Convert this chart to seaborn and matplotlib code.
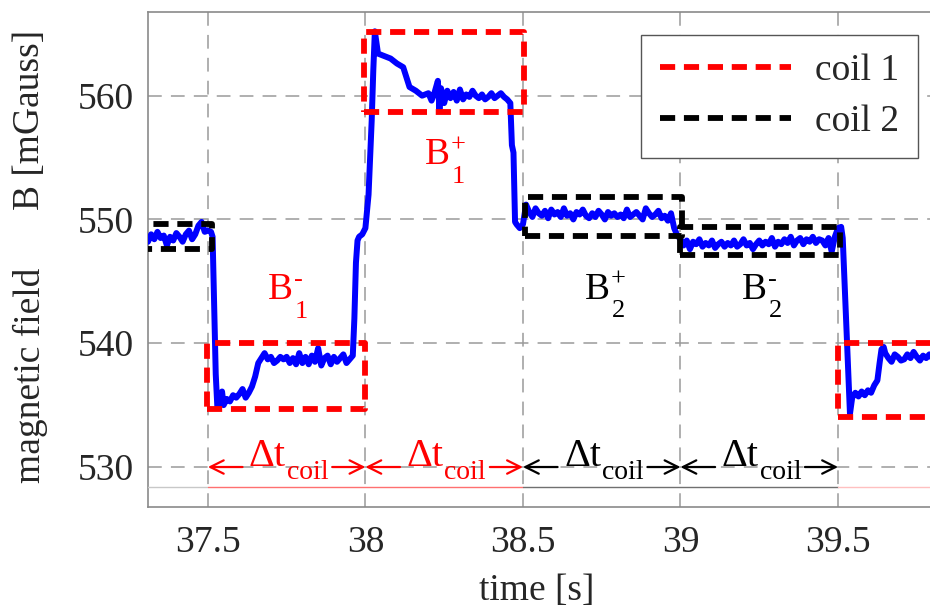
import matplotlib
matplotlib.use("Agg")
import matplotlib.pyplot as plt
import seaborn as sns
import pandas as pd

# ---------------- data ----------------
time_s = [
    37.30, 37.31, 37.32, 37.33, 37.34, 37.35, 37.36, 37.37, 37.38, 37.39,
    37.40, 37.41, 37.42, 37.43, 37.44, 37.45, 37.46, 37.47, 37.48, 37.49,
    37.50, 37.51, 37.515, 37.52, 37.525, 37.53, 37.54, 37.545, 37.55, 37.56,
    37.57, 37.58, 37.59, 37.60, 37.61, 37.62, 37.63, 37.64, 37.65, 37.66,
    37.67, 37.68, 37.69, 37.70, 37.71, 37.72, 37.73, 37.74, 37.75, 37.76,
    37.77, 37.78, 37.79, 37.80, 37.81, 37.82, 37.83, 37.84, 37.85, 37.86,
    37.87, 37.88, 37.89, 37.90, 37.91, 37.92, 37.93, 37.94, 37.95, 37.96,
    37.965, 37.97, 37.975, 37.98, 37.99, 38.00, 38.01, 38.02, 38.025, 38.03,
    38.04, 38.06, 38.08, 38.10, 38.12, 38.13, 38.14, 38.16, 38.18, 38.20,
    38.21, 38.22, 38.23, 38.235, 38.24, 38.25, 38.26, 38.27, 38.28, 38.29,
    38.30, 38.31, 38.32, 38.33, 38.34, 38.35, 38.36, 38.37, 38.38, 38.39,
    38.40, 38.41, 38.42, 38.43, 38.44, 38.45, 38.46, 38.465, 38.47, 38.475,
    38.48, 38.49, 38.50, 38.51, 38.52, 38.53, 38.54, 38.55, 38.56, 38.57,
    38.58, 38.59, 38.60, 38.61, 38.62, 38.63, 38.64, 38.65, 38.66, 38.67,
    38.68, 38.69, 38.70, 38.71, 38.72, 38.73, 38.74, 38.75, 38.76, 38.77,
    38.78, 38.79, 38.80, 38.81, 38.82, 38.83, 38.84, 38.85, 38.86, 38.87,
    38.88, 38.89, 38.90, 38.91, 38.92, 38.93, 38.94, 38.95, 38.96, 38.97,
    38.98, 38.99, 39.00, 39.01, 39.02, 39.03, 39.04, 39.05, 39.06, 39.07,
    39.08, 39.09, 39.10, 39.11, 39.12, 39.13, 39.14, 39.15, 39.16, 39.17,
    39.18, 39.19, 39.20, 39.21, 39.22, 39.23, 39.24, 39.25, 39.26, 39.27,
    39.28, 39.29, 39.30, 39.31, 39.32, 39.33, 39.34, 39.35, 39.36, 39.37,
    39.38, 39.39, 39.40, 39.41, 39.42, 39.43, 39.44, 39.45, 39.46, 39.47,
    39.48, 39.49, 39.50, 39.51, 39.515, 39.538, 39.545, 39.555, 39.565, 39.575,
    39.585, 39.595, 39.605, 39.615, 39.625, 39.632, 39.638, 39.645, 39.65, 39.66,
    39.67, 39.68, 39.69, 39.70, 39.71, 39.72, 39.73, 39.74, 39.75, 39.76,
    39.77, 39.78, 39.79, 39.80,
]
field_mG = [
    548.6, 548.2, 548.8, 548.4, 549.0, 548.5, 548.7, 547.9, 548.6, 548.3,
    548.9, 548.6, 548.2, 548.8, 549.1, 548.4, 548.8, 549.5, 549.8, 549.0,
    549.1, 549.0, 548.6, 543.0, 537.5, 534.9, 535.2, 536.1, 535.0, 535.5,
    535.3, 535.8, 535.6, 535.9, 536.3, 535.6, 536.0, 536.5, 537.3, 538.4,
    538.8, 539.2, 538.7, 538.9, 538.4, 538.6, 538.9, 538.7, 538.9, 538.4,
    538.8, 538.3, 539.2, 538.4, 538.9, 538.3, 539.0, 538.5, 539.6, 538.2,
    538.8, 539.0, 538.3, 538.9, 538.5, 538.8, 539.1, 538.4, 538.7, 539.0,
    542.0, 546.5, 548.3, 548.6, 548.8, 549.3, 552.0, 558.0, 562.0, 565.2,
    563.4, 563.2, 563.0, 562.6, 562.3, 561.5, 560.7, 560.4, 560.0, 560.2,
    559.6, 560.3, 561.2, 558.9, 560.6, 559.4, 560.4, 559.8, 560.3, 559.6,
    560.5, 559.7, 560.1, 559.9, 560.4, 560.0, 559.8, 560.1, 559.7, 559.9,
    560.2, 559.8, 560.0, 560.2, 559.9, 559.7, 559.4, 556.0, 555.4, 549.8,
    549.6, 549.3, 549.6, 551.2, 550.6, 550.2, 550.9, 550.5, 550.3, 550.7,
    550.1, 550.8, 550.4, 550.6, 550.2, 550.9, 550.3, 550.5, 550.0, 550.6,
    550.4, 550.8, 550.3, 550.1, 550.5, 550.2, 550.7, 550.4, 550.0, 550.6,
    550.3, 550.5, 550.2, 550.4, 550.1, 550.8, 550.2, 550.4, 550.6, 550.3,
    550.0, 550.9, 550.5, 550.2, 550.4, 550.7, 550.1, 550.3, 549.9, 550.5,
    549.3, 548.7, 548.4, 547.9, 548.3, 547.6, 548.2, 548.0, 548.4, 547.8,
    548.1, 547.9, 548.3, 547.7, 548.0, 548.2, 547.8, 548.1, 547.9, 548.3,
    547.8, 548.0, 548.4, 547.9, 548.1, 547.6, 548.0, 548.3, 547.9, 548.2,
    548.0, 548.5, 547.8, 548.2, 548.0, 548.4, 548.1, 548.6, 547.9, 548.3,
    548.5, 548.0, 548.4, 548.2, 548.6, 548.1, 548.4, 548.3, 547.9, 548.5,
    547.4, 548.6, 549.3, 549.4, 548.5, 534.3, 535.6, 536.0, 535.7, 536.1,
    535.8, 536.2, 536.0, 536.6, 537.0, 538.4, 539.5, 539.7, 539.2, 538.8,
    538.5, 539.1, 538.9, 538.6, 538.7, 539.1, 538.8, 539.3, 538.9, 538.6,
    539.0, 538.8, 539.1, 538.7,
]

# interval boxes (coil on-periods)
box_t0 = [37.20, 37.496, 37.997, 38.506, 38.998, 39.500]
box_t1 = [37.512, 38.000, 38.503, 39.004, 39.506, 39.95]
box_b0 = [547.6, 534.7, 558.66, 548.66, 547.13, 534.07]
box_b1 = [549.6, 540.0, 565.15, 551.84, 549.42, 540.0]
box_coil = ["coil 2", "coil 1", "coil 1", "coil 2", "coil 2", "coil 1"]

# state labels: B with subscript (coil number) and superscript (sign)
state_sub = ["1", "1", "2", "2"]
state_sup = ["-", "+", "+", "-"]
state_t = [37.770, 38.268, 38.776, 39.275]   # right edge of "B"
state_b = [544.3, 555.2, 544.35, 544.35]
state_coil = ["coil 1", "coil 1", "coil 2", "coil 2"]

# delta-t intervals
dt_start = [37.5, 38.0, 38.5, 39.0]
dt_end = [38.0, 38.5, 39.0, 39.5]
dt_coil = ["coil 1", "coil 1", "coil 2", "coil 2"]

x_ticks = [37.5, 38, 38.5, 39, 39.5]
x_tick_labels = ["37.5", "38", "38.5", "39", "39.5"]
y_ticks = [530, 540, 550, 560]

# ---------------- style ----------------
sns.set_theme(style="white")
plt.rcParams["font.family"] = ["Liberation Serif", "DejaVu Serif"]

coil_colors = {"coil 1": "#ff0000", "coil 2": "#000000"}
FS = 27
FS_SMALL = 19

fig = plt.figure(figsize=(9.3, 6.1), dpi=100)
ax = fig.add_axes([148 / 930, 1 - 507 / 610, 782 / 930, 495 / 610])

df = pd.DataFrame({"time": time_s, "B": field_mG})
sns.lineplot(data=df, x="time", y="B", ax=ax, color="#0000ff", lw=4.3,
             zorder=4, sort=True, estimator=None)

box_dash = (0, (2.6, 1.5))
for t0, t1, b0, b1, c in zip(box_t0, box_t1, box_b0, box_b1, box_coil):
    ax.plot([t0, t1, t1, t0, t0], [b0, b0, b1, b1, b0], color=coil_colors[c],
            lw=4.2, linestyle=box_dash, zorder=5, dash_capstyle="butt")

for sub, sup, t, b, c in zip(state_sub, state_sup, state_t, state_b,
                             state_coil):
    col = coil_colors[c]
    ax.text(t, b, "B", color=col, fontsize=FS, ha="right", va="center",
            zorder=6)
    ax.annotate(sup, xy=(t, b), xytext=(0.5, 7), textcoords="offset points",
                color=col, fontsize=FS_SMALL, ha="left", va="center",
                zorder=6)
    ax.annotate(sub, xy=(t, b), xytext=(1.5, -15.5),
                textcoords="offset points", color=col, fontsize=FS_SMALL,
                ha="left", va="center", zorder=6)

# delta-t annotations
y_arrow = 530.0
y_base = 528.4
ax.plot([37.2, 37.5], [y_base, y_base], color="#c8c8c8", lw=1.0, zorder=3)
ax.plot([37.5, 38.5], [y_base, y_base], color="#ff7070", lw=1.0, zorder=3)
ax.plot([38.5, 39.5], [y_base, y_base], color="#707070", lw=1.0, zorder=3)
ax.plot([39.5, 39.9], [y_base, y_base], color="#ffc0c0", lw=1.0, zorder=3)
for s, e, c in zip(dt_start, dt_end, dt_coil):
    col = coil_colors[c]
    ax.annotate("\u0394t", xy=(s + 0.248, y_arrow), xytext=(0, 0.5),
                textcoords="offset points", color=col, fontsize=29,
                ha="right", va="baseline", zorder=6)
    ax.annotate("coil", xy=(s + 0.251, y_arrow), xytext=(0, -8.5),
                textcoords="offset points", color=col, fontsize=20,
                ha="left", va="baseline", zorder=6)
    ax.annotate("", xy=(s, y_arrow), xytext=(s + 0.11, y_arrow),
                arrowprops=dict(arrowstyle="->", color=col, lw=1.6,
                                mutation_scale=24, shrinkA=0, shrinkB=0),
                zorder=6)
    ax.annotate("", xy=(e, y_arrow), xytext=(e - 0.105, y_arrow),
                arrowprops=dict(arrowstyle="->", color=col, lw=1.6,
                                mutation_scale=24, shrinkA=0, shrinkB=0),
                zorder=6)

# legend handles
for c in ["coil 1", "coil 2"]:
    ax.plot([], [], color=coil_colors[c], lw=4.2, linestyle=box_dash, label=c)

ax.set_xlim(37.31, 39.792)
ax.set_ylim(526.77, 566.76)
ax.set_xticks(x_ticks)
ax.set_xticklabels(x_tick_labels)
ax.set_yticks(y_ticks)
ax.tick_params(axis="both", labelsize=FS, direction="in", length=7,
               color="#888888", width=1.0)
ax.tick_params(axis="x", pad=13)
ax.tick_params(axis="y", pad=10)
ax.grid(True, color="#9a9a9a", lw=1.1, linestyle=(0, (9, 6)), zorder=1)
ax.set_axisbelow(True)
for side in ["left", "bottom", "top"]:
    ax.spines[side].set_color("#8a8a8a")
    ax.spines[side].set_linewidth(1.2)
ax.spines["right"].set_visible(False)
ax.set_xlabel("")
ax.set_ylabel("")

leg = ax.legend(loc="upper right", bbox_to_anchor=(0.985, 0.954),
                borderaxespad=0, fontsize=FS, frameon=True, fancybox=False,
                framealpha=1, edgecolor="#555555", handlelength=3.5,
                handletextpad=0.65, labelspacing=0.45, borderpad=0.5)
leg.get_frame().set_linewidth(1.0)

fig.text(537 / 930, 1 - 591 / 610, "time [s]", fontsize=FS, ha="center",
         va="center")
fig.text(30 / 930, 1 - 120 / 610, "B [mGauss]", fontsize=FS, rotation=90,
         ha="center", va="center")
fig.text(30 / 930, 1 - 375 / 610, "magnetic field", fontsize=FS, rotation=90,
         ha="center", va="center")

fig.savefig("out.png", dpi=100, facecolor="white")
